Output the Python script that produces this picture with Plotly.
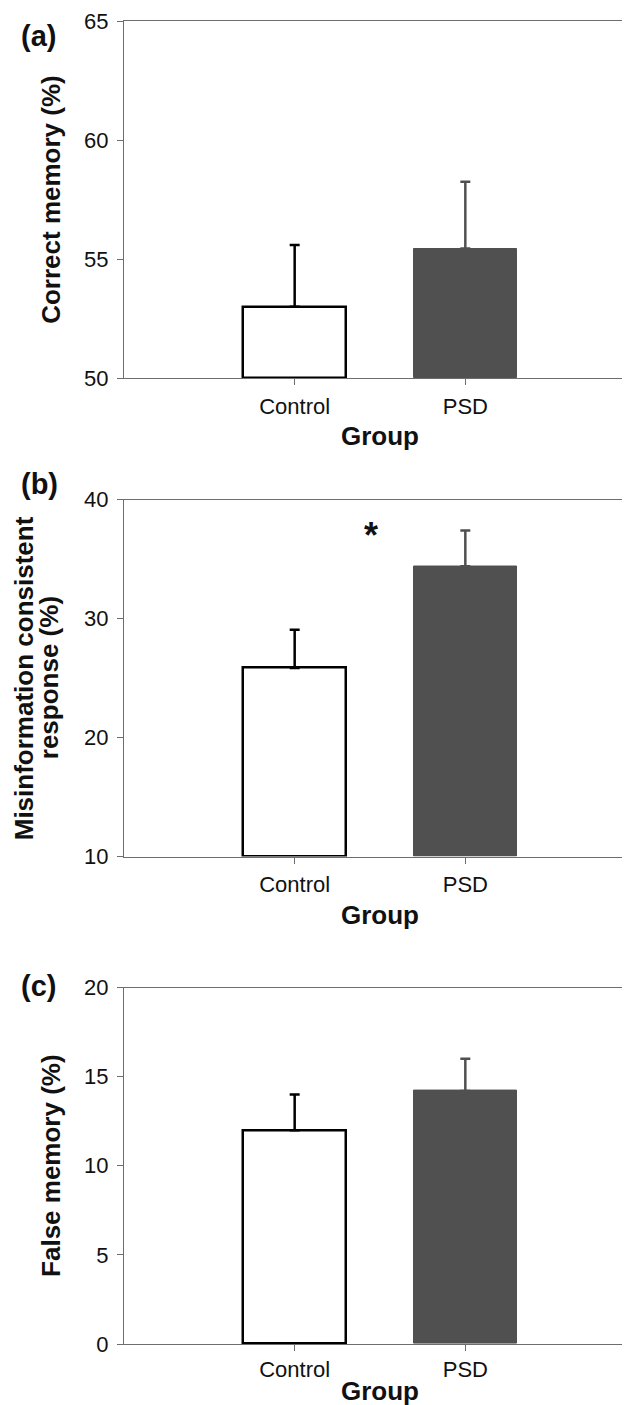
import plotly.graph_objects as go
from plotly.subplots import make_subplots

groups = ["Control", "PSD"]

correct_mean = [53.0, 55.45]
correct_err = [2.6, 2.8]

misinfo_mean = [25.85, 34.4]
misinfo_err = [3.2, 3.0]

false_mean = [12.0, 14.2]
false_err = [2.0, 1.8]

panel_labels = ["(a)", "(b)", "(c)"]
y_title_lines = [["Correct memory (%)"], ["Misinformation consistent", "response (%)"], ["False memory (%)"]]
y_ranges = [[50, 65], [10, 40], [0, 20]]
y_dticks = [5, 10, 5]
x_title = "Group"
sig_mark = "*"

bar_fill = ["white", "#505050"]
bar_line = ["black", "#505050"]
err_color = ["black", "#505050"]

FONT = "Arial, Liberation Sans, sans-serif"
AXIS_COLOR = "#6e6e6e"
TXT = "#111111"

W, H = 630, 1405
ML, MR, MT, MB = 116, 1, 8, 69
PW = W - ML - MR
PH = H - MT - MB


def px_x(p):
    return (p - ML) / PW


def px_y(p):
    return (H - MB - p) / PH


fig = make_subplots(rows=3, cols=1)

domains = [[0.7299, 1.0], [0.3684, 0.6383], [0.0, 0.2694]]
label_y_px = [23, 473, 977]
title_x_px = [[43], [16, 41], [43]]
group_y_px = [425, 905, 1383]
data = [(correct_mean, correct_err), (misinfo_mean, misinfo_err), (false_mean, false_err)]

for r, (means, errs) in enumerate(data, start=1):
    base = y_ranges[r - 1][0]
    for i, g in enumerate(groups):
        fig.add_trace(go.Bar(
            x=[i], y=[means[i] - base], base=[base], width=0.6,
            marker=dict(color=bar_fill[i], line=dict(color=bar_line[i], width=2.5 if i == 0 else 1)),
            error_y=dict(type="data", symmetric=False, array=[errs[i]], arrayminus=[0],
                         color=err_color[i], thickness=2.5, width=5),
            showlegend=False,
        ), row=r, col=1)
    fig.update_xaxes(
        row=r, col=1, range=[-1, 2], tickvals=[0, 1], ticktext=groups,
        showline=True, mirror=True, linecolor=AXIS_COLOR, linewidth=1,
        ticks="outside", ticklen=6, tickcolor=AXIS_COLOR, showgrid=False, zeroline=False,
        ticklabelstandoff=2 if r < 3 else 0,
        tickfont=dict(family=FONT, size=22, color=TXT),
    )
    fig.update_yaxes(
        row=r, col=1, range=y_ranges[r - 1], dtick=y_dticks[r - 1], domain=domains[r - 1],
        showline=True, mirror=True, linecolor=AXIS_COLOR, linewidth=1,
        ticks="outside", ticklen=6, tickcolor=AXIS_COLOR, showgrid=False, zeroline=False,
        ticklabelstandoff=4,
        tickfont=dict(family=FONT, size=22, color=TXT),
    )
    dom = domains[r - 1]
    mid = (dom[0] + dom[1]) / 2
    for line, xp in zip(y_title_lines[r - 1], title_x_px[r - 1]):
        fig.add_annotation(
            xref="paper", yref="paper", x=px_x(xp), y=mid, xanchor="center", yanchor="middle",
            text="<b>" + line + "</b>", textangle=-90, showarrow=False,
            font=dict(family=FONT, size=26, color=TXT),
        )
    fig.add_annotation(
        xref="paper", yref="paper", x=0.5, y=px_y(group_y_px[r - 1]), xanchor="center", yanchor="middle",
        text="<b>" + x_title + "</b>", showarrow=False,
        font=dict(family=FONT, size=26, color=TXT),
    )
    fig.add_annotation(
        xref="paper", yref="paper", x=px_x(11), y=px_y(label_y_px[r - 1]), xanchor="left", yanchor="middle",
        text="<b>" + panel_labels[r - 1] + "</b>", showarrow=False,
        font=dict(family=FONT, size=29, color=TXT),
    )

fig.add_annotation(
    xref="x2", yref="y2", x=0.45, y=37.0, text="<b>" + sig_mark + "</b>", showarrow=False,
    font=dict(family=FONT, size=36, color=TXT),
)

fig.update_layout(
    width=W, height=H,
    margin=dict(l=ML, r=MR, t=MT, b=MB),
    plot_bgcolor="white", paper_bgcolor="white",
    bargap=0,
)

fig.write_html("out.html")
